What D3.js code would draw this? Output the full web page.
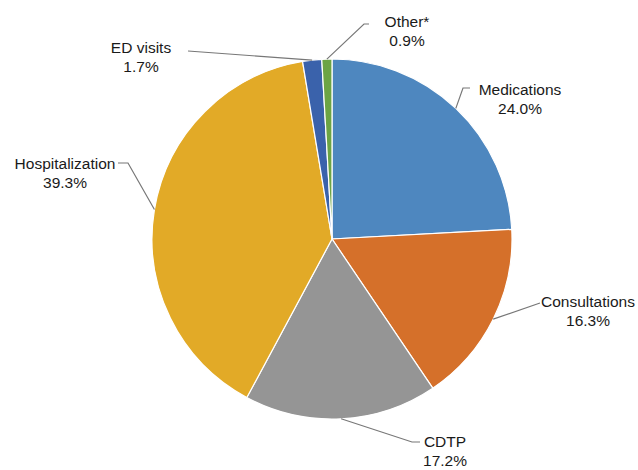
<!DOCTYPE html>
<html>
<head>
<meta charset="utf-8">
<script src="https://cdn.jsdelivr.net/npm/d3@7"></script>
<style>
  html, body { margin: 0; padding: 0; background: #fff; }
  svg { display: block; }
</style>
</head>
<body>
<div id="chart"></div>
<script>
const categories = ['Medications', 'Consultations', 'CDTP', 'Hospitalization', 'ED visits', 'Other*']
const shares = [24.0, 16.3, 17.2, 39.3, 1.7, 0.9]
const colors = ['#4e87bf', '#d5702a', '#959595', '#e2aa27', '#3a62ab', '#6ca444']

// label placement: text centre x, first baseline y, elbow and end of the leader line
const labelLayout = {
  'Medications': { tx: 520, ty: 95, elbow: [463, 88], end: [470, 88] },
  'Consultations': { tx: 588, ty: 307, elbow: [540, 303], end: [540, 303] },
  'CDTP': { tx: 445, ty: 447, elbow: [412, 442], end: [420, 442] },
  'Hospitalization': { tx: 65, ty: 169, elbow: [128, 163], end: [118, 163] },
  'ED visits': { tx: 141, ty: 53, elbow: [188, 51], end: [188, 51] },
  'Other*': { tx: 407, ty: 27, elbow: [364, 24], end: [369, 24] }
}

const width = 638
const height = 470
const cx = 332
const cy = 239
const radius = 180

const data = categories.map((c, i) => ({ name: c, value: shares[i], color: colors[i] }))

const pie = d3.pie().sort(null).value(d => d.value)
const arc = d3.arc().innerRadius(0).outerRadius(radius)

const svg = d3
  .select('#chart')
  .append('svg')
  .attr('width', width)
  .attr('height', height)

const g = svg.append('g').attr('transform', `translate(${cx},${cy})`)

const arcs = pie(data)

g.selectAll('path')
  .data(arcs)
  .join('path')
  .attr('d', arc)
  .attr('fill', d => d.data.color)
  .attr('stroke', '#fff')
  .attr('stroke-width', 1.2)

// leader lines
svg
  .append('g')
  .selectAll('polyline')
  .data(arcs)
  .join('polyline')
  .attr('fill', 'none')
  .attr('stroke', '#777')
  .attr('stroke-width', 1.2)
  .attr('points', d => {
    const a = (d.startAngle + d.endAngle) / 2
    const p0 = [cx + radius * Math.sin(a), cy - radius * Math.cos(a)]
    const l = labelLayout[d.data.name]
    return [p0, l.elbow, l.end].map(p => p.join(',')).join(' ')
  })

// labels
const labels = svg
  .append('g')
  .selectAll('text')
  .data(arcs)
  .join('text')
  .attr('text-anchor', 'middle')
  .attr('font-family', 'Liberation Sans, Arial, sans-serif')
  .attr('font-size', '15.5px')
  .attr('fill', '#1a1a1a')

labels
  .append('tspan')
  .attr('x', d => labelLayout[d.data.name].tx)
  .attr('y', d => labelLayout[d.data.name].ty)
  .text(d => d.data.name)

labels
  .append('tspan')
  .attr('x', d => labelLayout[d.data.name].tx)
  .attr('y', d => labelLayout[d.data.name].ty + 19)
  .text(d => d.data.value.toFixed(1) + '%')
</script>
</body>
</html>
